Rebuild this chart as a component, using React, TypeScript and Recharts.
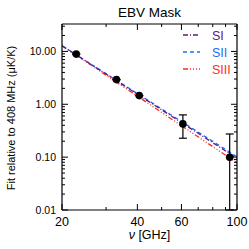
import React from 'react';
import {
  ComposedChart,
  Line,
  Scatter,
  ErrorBar,
  XAxis,
  YAxis,
} from 'recharts';

// measured fit amplitudes (WMAP bands)
const freqs = [22.8, 33.0, 40.7, 60.8, 93.5];
const amps = [8.9, 2.93, 1.46, 0.425, 0.099];
const errLow = [0, 0, 0, 0.197, 0.089];
const errHigh = [0, 0, 0, 0.205, 0.175];

// model lines, evaluated at the plot edges
const modelFreqs = [20, 100];
const siValues = [12.8, 0.095];
const siiValues = [12.8, 0.102];
const siiiValues = [12.8, 0.078];

const xTicks = [20, 30, 40, 50, 60, 70, 80, 90, 100];
const xLabels = [20, 40, 60, 100];
const yTicks = [
  0.01, 0.02, 0.03, 0.04, 0.05, 0.06, 0.07, 0.08, 0.09,
  0.1, 0.2, 0.3, 0.4, 0.5, 0.6, 0.7, 0.8, 0.9,
  1, 2, 3, 4, 5, 6, 7, 8, 9,
  10, 20, 30,
];
const yLabels = [0.01, 0.1, 1, 10];

const FONT = '"Liberation Sans", Arial, Helvetica, sans-serif';

const points = freqs.map((f, i) => ({ f, v: amps[i], err: [errLow[i], errHigh[i]] }));
const mkLine = (vals: number[]) => modelFreqs.map((f, i) => ({ f, v: vals[i] }));

const series = [
  { name: 'SIII', color: '#ff2a1f', dash: '5 2 1 2 1 2 1 2', data: mkLine(siiiValues) },
  { name: 'SII', color: '#1a6cff', dash: '4 3', data: mkLine(siiValues) },
  { name: 'SI', color: '#5e1c80', dash: '5 2 1 2', data: mkLine(siValues) },
];

const isMajorY = (v: number) => yLabels.some((l) => Math.abs(l - v) < 1e-9);

const BottomTick = (p: any) => {
  const v = p.payload.value;
  const major = xLabels.includes(v);
  return (
    <g>
      <line x1={p.x} y1={p.y} x2={p.x} y2={p.y - (major ? 6 : 3)} stroke="#000" strokeWidth={1} />
      {major && (
        <text x={p.x} y={p.y + 16} textAnchor="middle" fontSize={12.5} fontFamily={FONT} fill="#000">
          {v}
        </text>
      )}
    </g>
  );
};

const TopTick = (p: any) => {
  const major = xLabels.includes(p.payload.value);
  return <line x1={p.x} y1={p.y} x2={p.x} y2={p.y + (major ? 6 : 3)} stroke="#000" strokeWidth={1} />;
};

const LeftTick = (p: any) => {
  const v = p.payload.value;
  const major = isMajorY(v);
  return (
    <g>
      <line x1={p.x} y1={p.y} x2={p.x + (major ? 6 : 3)} y2={p.y} stroke="#000" strokeWidth={1} />
      {major && (
        <text x={p.x - 6} y={p.y + 3.6} textAnchor="end" fontSize={10.5} fontFamily={FONT} fill="#000">
          {v.toFixed(2)}
        </text>
      )}
    </g>
  );
};

const RightTick = (p: any) => {
  const major = isMajorY(p.payload.value);
  return <line x1={p.x} y1={p.y} x2={p.x - (major ? 6 : 3)} y2={p.y} stroke="#000" strokeWidth={1} />;
};

const legendItems = [series[2], series[1], series[0]];

export default function App() {
  return (
    <div style={{ position: 'absolute', left: 0, top: 0, width: 249, height: 249, background: '#fff', fontFamily: FONT }}>
      <div style={{ position: 'absolute', left: 0, width: 249, top: 5, paddingLeft: 50, boxSizing: 'border-box', textAlign: 'center', fontSize: 13.5, lineHeight: '16px' }}>
        EBV Mask
      </div>
      <div
        style={{
          position: 'absolute',
          left: 11,
          top: 118,
          width: 200,
          marginLeft: -100,
          marginTop: -7,
          textAlign: 'center',
          fontSize: 11,
          lineHeight: '14px',
          transform: 'rotate(-90deg)',
          whiteSpace: 'nowrap',
        }}
      >
        Fit relative to 408 MHz (μK/K)
      </div>
      <div style={{ position: 'absolute', left: 0, width: 249, top: 229, paddingLeft: 50, boxSizing: 'border-box', textAlign: 'center', fontSize: 12.5, lineHeight: '13px' }}>
        <i style={{ fontStyle: 'italic' }}>ν</i> [GHz]
      </div>
      <ComposedChart
        width={249}
        height={249}
        margin={{ top: 23, right: 11, bottom: 38, left: 61 }}
        style={{ position: 'absolute', left: 0, top: 0 }}
      >
        <XAxis
          xAxisId="b"
          dataKey="f"
          type="number"
          scale="log"
          domain={[20, 100]}
          allowDataOverflow
          ticks={xTicks}
          interval={0}
          height={1}
          tickSize={0}
          tickMargin={0}
          tickLine={false}
          tick={BottomTick}
          axisLine={{ stroke: '#000', strokeWidth: 1.2 }}
        />
        <XAxis
          xAxisId="t"
          orientation="top"
          dataKey="f"
          type="number"
          scale="log"
          domain={[20, 100]}
          allowDataOverflow
          ticks={xTicks}
          interval={0}
          height={1}
          tickSize={0}
          tickMargin={0}
          tickLine={false}
          tick={TopTick}
          axisLine={{ stroke: '#000', strokeWidth: 1.2 }}
        />
        <YAxis
          yAxisId="l"
          dataKey="v"
          type="number"
          scale="log"
          domain={[0.01, 33]}
          allowDataOverflow
          ticks={yTicks}
          interval={0}
          width={1}
          tickSize={0}
          tickMargin={0}
          tickLine={false}
          tick={LeftTick}
          axisLine={{ stroke: '#000', strokeWidth: 1.2 }}
        />
        <YAxis
          yAxisId="r"
          orientation="right"
          dataKey="v"
          type="number"
          scale="log"
          domain={[0.01, 33]}
          allowDataOverflow
          ticks={yTicks}
          interval={0}
          width={1}
          tickSize={0}
          tickMargin={0}
          tickLine={false}
          tick={RightTick}
          axisLine={{ stroke: '#000', strokeWidth: 1.2 }}
        />
        {series.map((s) => (
          <Line
            key={s.name}
            xAxisId="b"
            yAxisId="l"
            data={s.data}
            dataKey="v"
            stroke={s.color}
            strokeWidth={1.3}
            strokeDasharray={s.dash}
            dot={false}
            isAnimationActive={false}
          />
        ))}
        <Scatter
          xAxisId="b"
          yAxisId="l"
          data={points}
          dataKey="v"
          fill="#000"
          isAnimationActive={false}
          shape={(p: any) => <circle cx={p.cx} cy={p.cy} r={3.8} fill="#000" />}
        >
          <ErrorBar dataKey="err" direction="y" width={4} stroke="#000" strokeWidth={1.2} isAnimationActive={false} />
        </Scatter>
      </ComposedChart>
      <svg width={60} height={52} style={{ position: 'absolute', left: 180, top: 28 }}>
        {legendItems.map((s, i) => (
          <g key={s.name}>
            <line x1={3} y1={7 + i * 17} x2={20} y2={7 + i * 17} stroke={s.color} strokeWidth={1.3} strokeDasharray={s.dash} />
            <text x={32} y={11.5 + i * 17} fontSize={12.5} fontFamily={FONT} fill={s.color}>
              {s.name}
            </text>
          </g>
        ))}
      </svg>
    </div>
  );
}
